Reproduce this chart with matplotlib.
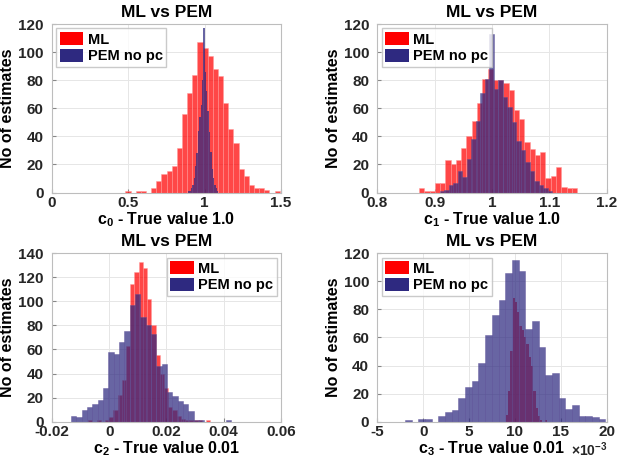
import numpy as np
import matplotlib
matplotlib.use('Agg')
import matplotlib.pyplot as plt
from matplotlib.patches import Patch

plt.rcParams['font.family'] = ['Liberation Sans', 'DejaVu Sans']
plt.rcParams['font.weight'] = 'bold'
plt.rcParams['mathtext.fontset'] = 'custom'
plt.rcParams['mathtext.rm'] = 'Liberation Sans'
plt.rcParams['mathtext.bf'] = 'Liberation Sans:bold'
plt.rcParams['mathtext.it'] = 'Liberation Sans:italic'

# c0 : histograms (first bin edge, bin width, counts)
c0_ml_lo, c0_ml_w = 0.481, 0.0337
c0_ml = [1, 0, 1, 1, 0, 3, 8, 13, 15, 19, 32, 56, 71, 84, 107, 103, 97, 88, 83, 64,
         45, 35, 17, 12, 5, 3, 3, 2, 0, 1]
c0_pem_lo, c0_pem_w = 0.892, 0.009
c0_pem = [1, 1, 3, 5, 10, 19, 28, 44, 54, 62, 80, 117, 86, 72, 58, 43, 29, 17, 10, 5, 3, 1]

# c1
c1_ml_lo, c1_ml_w = 0.8726, 0.0092
c1_ml = [3, 1, 1, 7, 7, 23, 20, 23, 32, 40, 51, 64, 81, 88, 80, 80, 78, 73, 59, 52,
         36, 31, 27, 29, 10, 12, 18, 4, 3, 3]
c1_pem_lo, c1_pem_w = 0.909, 0.00786
c1_pem = [1, 2, 5, 7, 15, 11, 24, 38, 51, 71, 81, 113, 74, 80, 68, 61, 50, 37, 30, 22,
          15, 8, 5, 3, 1]

# c2
c2_ml_lo, c2_ml_w = -0.00735, 0.00147
c2_ml = [1, 0, 1, 0, 1, 4, 10, 22, 35, 63, 114, 124, 133, 128, 102, 80, 55, 40, 28, 12,
         10, 5, 2, 1, 1, 1, 1, 0, 1]
c2_pem_lo, c2_pem_w = -0.0133, 0.00186
c2_pem = [5, 4, 10, 12, 15, 18, 28, 58, 56, 66, 75, 97, 106, 87, 80, 73, 46, 48, 25, 21,
          17, 15, 9, 1, 1, 0, 0, 0, 0, 1]

# c3 (values in units of 1e-3)
c3_ml_lo, c3_ml_w = 9.0, 0.25
c3_ml = [5, 22, 50, 88, 85, 78, 68, 65, 60, 55, 46, 40, 22, 10, 4, 1, 0, 1]
c3_pem_lo, c3_pem_w = -1.99, 0.7287
c3_pem = [1, 0, 2, 2, 0, 4, 7, 8, 17, 25, 29, 42, 62, 76, 87, 106, 115, 107, 66, 72,
          53, 33, 35, 17, 9, 12, 4, 4, 3, 2]

red = (1.0, 0.0, 0.0)
blue = (0.18, 0.16, 0.50)

fig = plt.figure(figsize=(6.18, 4.59), dpi=100)

def hbars(ax, lo, w, counts, color, ec, lw):
    counts = np.array(counts)
    left = lo + w * np.arange(len(counts))
    ax.bar(left, counts, width=w, align='edge', color=color, alpha=0.72,
           edgecolor=ec, linewidth=lw)

def style(ax, xlim, ylim, xticks, xticklabels, yticks, xlabel, legloc):
    ax.set_xlim(xlim)
    ax.set_ylim(ylim)
    ax.set_xticks(xticks)
    ax.set_xticklabels(xticklabels)
    ax.set_yticks(yticks)
    ax.grid(True, color='#e6e6e6', linewidth=0.7)
    ax.set_axisbelow(True)
    for s in ax.spines.values():
        s.set_color('#bdbdbd')
        s.set_linewidth(0.8)
    ax.tick_params(direction='in', length=3, color='#888888', labelsize=11,
                   labelcolor='#262626')
    ax.tick_params(axis='x', pad=2.5)
    ax.tick_params(axis='y', pad=6)
    for lab in ax.get_xticklabels() + ax.get_yticklabels():
        lab.set_fontweight('bold')
    ax.set_title('ML vs PEM', fontsize=12.5, fontweight='bold', pad=5)
    ax.set_ylabel('No of estimates', fontsize=11.5, fontweight='bold', labelpad=2)
    ax.set_xlabel(xlabel, fontsize=11.5, fontweight='bold')
    ax.xaxis.set_label_coords(0.5, -0.105)
    handles = [Patch(facecolor=red, edgecolor='none'), Patch(facecolor=blue, edgecolor='none')]
    ax.legend(handles, ['ML', 'PEM no pc'], loc=legloc, frameon=True,
              fancybox=False, edgecolor='#bdbdbd', borderpad=0.25, handlelength=1.6,
              handleheight=1.0, handletextpad=0.3, labelspacing=0.15,
              borderaxespad=0.3, prop={'weight': 'bold', 'size': 10.5})

ax1 = fig.add_axes([0.0841, 0.5806, 0.3706, 0.3671])
hbars(ax1, c0_ml_lo, c0_ml_w, c0_ml, red, '#ff9a9a', 0.5)
hbars(ax1, c0_pem_lo, c0_pem_w, c0_pem, blue, 'none', 0)
style(ax1, (0, 1.5), (0, 120), [0, 0.5, 1, 1.5], ['0', '0.5', '1', '1.5'],
      range(0, 121, 20), r'c$_{\mathbf{0}}$ - True value 1.0', 'upper left')

ax2 = fig.add_axes([0.6108, 0.5806, 0.3706, 0.3671])
hbars(ax2, c1_ml_lo, c1_ml_w, c1_ml, red, '#ff9a9a', 0.5)
hbars(ax2, c1_pem_lo, c1_pem_w, c1_pem, blue, '#5a4f95', 0.4)
style(ax2, (0.8, 1.2), (0, 120), [0.8, 0.9, 1.0, 1.1, 1.2],
      ['0.8', '0.9', '1', '1.1', '1.2'], range(0, 121, 20),
      r'c$_{\mathbf{1}}$ - True value 1.0', 'upper left')

ax3 = fig.add_axes([0.0841, 0.0813, 0.3706, 0.3671])
hbars(ax3, c2_ml_lo, c2_ml_w, c2_ml, red, '#ff9a9a', 0.4)
hbars(ax3, c2_pem_lo, c2_pem_w, c2_pem, blue, '#5a4f95', 0.4)
style(ax3, (-0.02, 0.06), (0, 140), [-0.02, 0, 0.02, 0.04, 0.06],
      ['-0.02', '0', '0.02', '0.04', '0.06'], range(0, 141, 20),
      r'c$_{\mathbf{2}}$ - True value 0.01', 'upper right')

ax4 = fig.add_axes([0.6108, 0.0813, 0.3706, 0.3671])
hbars(ax4, c3_ml_lo, c3_ml_w, c3_ml, red, 'none', 0)
hbars(ax4, c3_pem_lo, c3_pem_w, c3_pem, blue, '#5a4f95', 0.4)
style(ax4, (-5, 20), (0, 120), [-5, 0, 5, 10, 15, 20],
      ['-5', '0', '5', '10', '15', '20'], range(0, 121, 20),
      r'c$_{\mathbf{3}}$ - True value 0.01', 'upper left')
ax4.text(0.845, -0.165, r'$\times\mathregular{10^{-3}}$', transform=ax4.transAxes,
         ha='left', va='center', fontsize=10, color='#262626')

fig.savefig('out.png', dpi=100)
